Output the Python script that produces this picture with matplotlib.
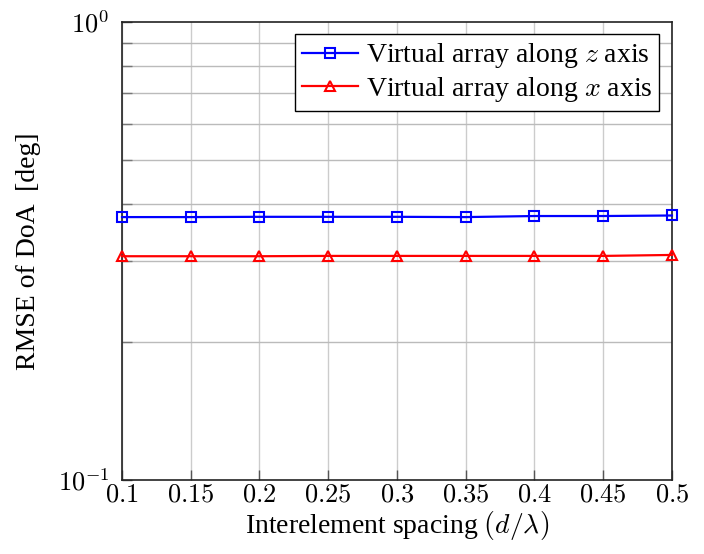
import matplotlib
matplotlib.use("Agg")
import matplotlib.pyplot as plt
from matplotlib.ticker import FixedLocator, LogLocator, NullFormatter

# Interelement spacing d/lambda
spacing = [0.1, 0.15, 0.2, 0.25, 0.3, 0.35, 0.4, 0.45, 0.5]
rmse_z = [0.375, 0.375, 0.3755, 0.3755, 0.3755, 0.375, 0.377, 0.377, 0.378]
rmse_x = [0.308, 0.308, 0.308, 0.3085, 0.3085, 0.3085, 0.3085, 0.3085, 0.310]
xtick_labels = ["0.1", "0.15", "0.2", "0.25", "0.3", "0.35", "0.4", "0.45", "0.5"]

plt.rcParams["font.family"] = ["Liberation Serif", "DejaVu Serif"]
plt.rcParams["mathtext.fontset"] = "cm"

fig = plt.figure(figsize=(7.04, 5.54), dpi=100)
ax = fig.add_axes([0.1733, 0.1336, 0.7812, 0.8267])

ax.plot(spacing, rmse_z, color="blue", lw=1.6, marker="s", ms=7,
        mfc="none", mew=1.5, clip_on=False, zorder=3,
        label=r"Virtual array along $z$ axis")
ax.plot(spacing, rmse_x, color="red", lw=1.6, marker="^", ms=7,
        mfc="none", mew=1.5, clip_on=False, zorder=3,
        label=r"Virtual array along $x$ axis")

ax.set_yscale("log")
ax.set_xlim(0.1, 0.5)
ax.set_ylim(0.1, 1.0)
ax.set_xticks(spacing)
ax.set_xticklabels(["$" + s + "$" for s in xtick_labels])
ax.yaxis.set_major_locator(FixedLocator([0.1, 1.0]))
ax.set_yticklabels([r"$10^{-1}$", r"$10^{0}$"])
ax.yaxis.set_minor_locator(LogLocator(base=10, subs=range(2, 10)))
ax.yaxis.set_minor_formatter(NullFormatter())

ax.tick_params(axis="both", which="major", direction="in", length=7,
               width=1.0, color="#555555", labelsize=19)
ax.tick_params(axis="x", which="major", pad=3)
ax.tick_params(axis="y", which="major", pad=9)
ax.tick_params(axis="y", which="minor", direction="in", length=7,
               width=1.0, color="#777777")
ax.tick_params(top=False, right=False)

ax.grid(True, axis="x", which="major", color="#cccccc", lw=1.0)
ax.grid(True, axis="y", which="minor", color="#bbbbbb", lw=1.0)
ax.grid(False, axis="y", which="major")
ax.set_axisbelow(True)
for sp in ax.spines.values():
    sp.set_color("#222222")
    sp.set_linewidth(1.2)

ax.set_xlabel(r"Interelement spacing $(d/\lambda)$", fontsize=20, labelpad=2)
ax.set_ylabel("RMSE of DoA  [deg]", fontsize=20, labelpad=12)

leg = ax.legend(loc="upper right", fontsize=20, fancybox=False,
                edgecolor="black", framealpha=1, borderpad=0.25,
                handlelength=2.0, handletextpad=0.3, labelspacing=0.15,
                borderaxespad=0.45)
leg.get_frame().set_linewidth(1.0)

fig.savefig("out.png", dpi=100)
plt.close(fig)
